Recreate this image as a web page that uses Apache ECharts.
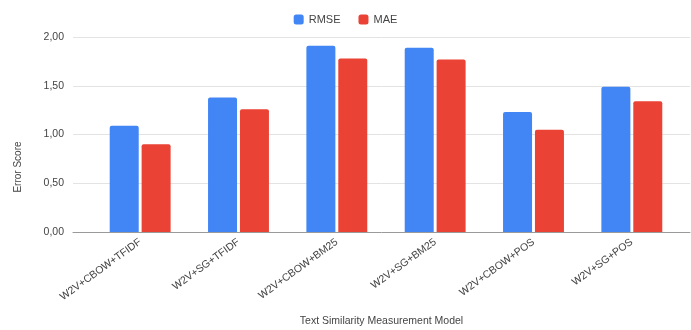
<!DOCTYPE html>
<html>
<head>
<meta charset="utf-8">
<script src="https://cdn.jsdelivr.net/npm/echarts@6/dist/echarts.min.js"></script>
<style>
  html, body { margin: 0; padding: 0; background: #fff; }
  #chart { width: 691px; height: 330px; }
</style>
</head>
<body>
<div id="chart"></div>
<script>
// Model combinations compared on the x axis
const categories = ['W2V+CBOW+TFIDF', 'W2V+SG+TFIDF', 'W2V+CBOW+BM25', 'W2V+SG+BM25', 'W2V+CBOW+POS', 'W2V+SG+POS'];
// Error scores per model
const rmse = [1.09, 1.38, 1.91, 1.89, 1.23, 1.49];
const mae = [0.90, 1.26, 1.78, 1.77, 1.05, 1.34];
// Y axis ticks
const yTicks = [0, 0.5, 1, 1.5, 2];

const yMin = yTicks[0], yMax = yTicks[yTicks.length - 1], yStep = yTicks[1] - yTicks[0];
const fontFamily = '"Liberation Sans", Arial, sans-serif';
const textColor = '#444';

const chart = echarts.init(document.getElementById('chart'), null, { renderer: 'canvas' });

chart.setOption({
  animation: false,
  textStyle: { fontFamily },
  legend: {
    top: 9,
    left: 'center',
    itemWidth: 10,
    itemHeight: 10,
    itemGap: 18,
    icon: 'roundRect',
    textStyle: { fontSize: 11, color: textColor, fontFamily },
    data: ['RMSE', 'MAE']
  },
  grid: [
    // frame: gridlines, tick labels and baseline
    { left: 73, right: 1, top: 37, bottom: 98, containLabel: false, outerBoundsMode: 'none' },
    // bar area
    { left: 91, right: 10, top: 37, bottom: 98, containLabel: false, outerBoundsMode: 'none' }
  ],
  xAxis: [
    {
      gridIndex: 0,
      type: 'category',
      data: categories,
      axisLine: { show: true, lineStyle: { color: '#9a9a9a', width: 1 } },
      axisTick: { show: false },
      axisLabel: { show: false },
      splitLine: { show: false },
      name: 'Text Similarity Measurement Model',
      nameLocation: 'middle',
      nameGap: 84,
      nameTextStyle: { fontSize: 10.5, color: textColor, fontFamily }
    },
    {
      gridIndex: 1,
      type: 'category',
      data: categories,
      axisLine: { show: false },
      axisTick: { show: false },
      axisLabel: {
        rotate: 36,
        margin: 9,
        fontSize: 10.5,
        color: textColor,
        fontFamily,
        interval: 0
      }
    }
  ],
  yAxis: [
    {
      gridIndex: 0,
      type: 'value',
      min: yMin,
      max: yMax,
      interval: yStep,
      axisLine: { show: false },
      axisTick: { show: false },
      axisLabel: {
        margin: 9,
        fontSize: 10.5,
        color: textColor,
        fontFamily,
        formatter: v => v.toFixed(2).replace('.', ',')
      },
      splitLine: { lineStyle: { color: '#e3e3e3', width: 1 } }
    },
    {
      gridIndex: 1,
      type: 'value',
      min: yMin,
      max: yMax,
      show: false,
      splitLine: { show: false }
    }
  ],
  graphic: [
    {
      type: 'text',
      x: 18,
      y: 167,
      rotation: Math.PI / 2,
      style: {
        text: 'Error Score',
        fontSize: 10,
        fill: textColor,
        fontFamily,
        align: 'center',
        verticalAlign: 'middle'
      }
    }
  ],
  series: [
    {
      name: 'RMSE',
      type: 'bar',
      xAxisIndex: 1,
      yAxisIndex: 1,
      data: rmse,
      barWidth: 29,
      barGap: '10%',
      itemStyle: { color: '#4285F4', borderRadius: [2, 2, 0, 0] }
    },
    {
      name: 'MAE',
      type: 'bar',
      xAxisIndex: 1,
      yAxisIndex: 1,
      data: mae,
      barWidth: 29,
      barGap: '10%',
      itemStyle: { color: '#EA4335', borderRadius: [2, 2, 0, 0] }
    }
  ]
});
</script>
</body>
</html>
